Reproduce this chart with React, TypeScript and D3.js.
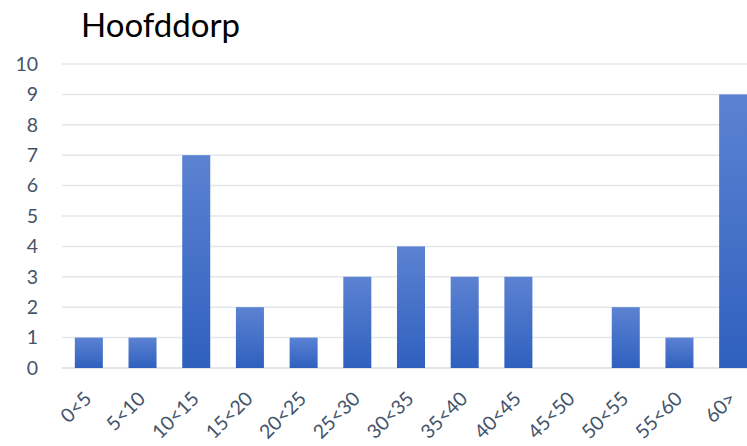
import * as d3 from "d3";

const categories = ["0<5", "5<10", "10<15", "15<20", "20<25", "25<30", "30<35", "35<40", "40<45", "45<50", "50<55", "55<60", "60>"];
const counts = [1, 1, 7, 2, 1, 3, 4, 3, 3, 0, 2, 1, 9];
const yTicks = [0, 1, 2, 3, 4, 5, 6, 7, 8, 9, 10];
const title = "Hoofddorp";

const W = 747;
const H = 446;

const App = () => {
  const x = d3.scaleBand<string>()
    .domain(categories)
    .range([62, 760])
    .paddingInner(0.478)
    .paddingOuter(0.239);

  const y = d3.scaleLinear()
    .domain([0, 10])
    .range([368, 64]);

  const font = "Lato, 'Open Sans', sans-serif";

  return (
    <svg width={W} height={H} style={{ position: "absolute", left: 0, top: 0, background: "#fff" }}>
      <defs>
        <linearGradient id="barGrad" x1="0" y1="0" x2="0" y2="1">
          <stop offset="0" stopColor="#5c82d2" />
          <stop offset="1" stopColor="#2f60be" />
        </linearGradient>
      </defs>
      <text x={81} y={37} fontFamily={font} fontSize={33} fill="#000">{title}</text>
      {yTicks.map(t => (
        <g key={t}>
          <line x1={62} x2={W} y1={y(t)} y2={y(t)} stroke={t === 0 ? "#d9dde3" : "#e3e6eb"} strokeWidth={1.5} />
          <text x={38} y={y(t)} dy="0.35em" textAnchor="end" fontFamily={font} fontSize={19.5} fill="#44546a">{t}</text>
        </g>
      ))}
      {categories.map((c, i) => (
        counts[i] > 0 ? (
          <rect key={c} x={x(c)} width={x.bandwidth()} y={y(counts[i])} height={y(0) - y(counts[i])} fill="url(#barGrad)" />
        ) : null
      ))}
      {categories.map(c => {
        const cx = (x(c) ?? 0) + x.bandwidth() / 2 + 4;
        const cy = 400;
        return (
          <text key={c} x={cx} y={cy} transform={`rotate(-45,${cx},${cy})`} textAnchor="end" fontFamily={font} fontSize={19.5} fill="#44546a">{c}</text>
        );
      })}
    </svg>
  );
};

export default App;
